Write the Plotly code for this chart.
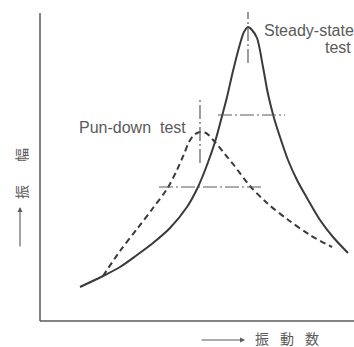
import plotly.graph_objects as go

# Data (frequency, amplitude) in arbitrary units
steady_x = [40, 63, 80, 97, 113, 130, 147, 158, 167, 175, 181, 187, 193, 200, 204, 208, 212, 217, 223, 228, 234, 240, 248, 257, 267, 280, 293, 308]
steady_y = [34, 45, 54, 66, 78, 93, 114, 134, 156, 179, 201, 224, 250, 277, 289, 294, 291, 283, 254, 227, 203, 184, 161, 141, 123, 101, 84, 68]

rundown_x = [63, 80, 97, 113, 127, 137, 144, 149, 154, 160, 166, 175, 184, 193, 210, 227, 247, 270, 292]
rundown_y = [45, 70, 92, 113, 132, 151, 167, 179, 186, 189, 188, 179, 168, 157, 135, 118, 102, 86, 74]

# marker lines (dash-dot)
steady_peak_x = [208, 208]
steady_peak_y = [258, 309]
steady_half_x = [178, 245]
steady_half_y = [206, 206]
rundown_peak_x = [160, 160]
rundown_peak_y = [158, 221]
rundown_half_x = [119, 222]
rundown_half_y = [134, 134]

curve_labels = ["Steady-state", "test", "Pun-down  test"]
x_title_chars = ["振", "動", "数"]
y_title_chars = ["振", "幅"]

ink = "#3a3a3a"
grey = "#5a5a5a"
fig = go.Figure()
fig.add_trace(go.Scatter(x=steady_x, y=steady_y, mode="lines",
                         line=dict(color=ink, width=2, shape="spline", smoothing=0.9)))
fig.add_trace(go.Scatter(x=rundown_x, y=rundown_y, mode="lines",
                         line=dict(color=ink, width=2, dash="6px,4px", shape="spline", smoothing=0.9)))
for xs, ys in [(steady_peak_x, steady_peak_y), (steady_half_x, steady_half_y),
               (rundown_peak_x, rundown_peak_y), (rundown_half_x, rundown_half_y)]:
    fig.add_trace(go.Scatter(x=xs, y=ys, mode="lines",
                             line=dict(color=grey, width=1.2, dash="14px,3px,2px,3px")))

txt = dict(family="Liberation Sans Narrow, Liberation Sans, sans-serif", size=16, color=grey)
cjk = dict(family="Noto Sans CJK JP", size=14, color=grey)
fig.add_annotation(x=222, y=291, text=curve_labels[0], showarrow=False, xanchor="left", yanchor="middle", font=txt)
fig.add_annotation(x=313, y=274, text=curve_labels[1], showarrow=False, xanchor="right", yanchor="middle", font=txt)
fig.add_annotation(x=37, y=194, text=curve_labels[2], showarrow=False, xanchor="left", yanchor="middle", font=txt)

W, H = 314.0, 321.0
# x title
for ch, px in zip(x_title_chars, [262, 287, 312]):
    fig.add_annotation(xref="paper", yref="paper", x=(px - 40) / W, y=(321 - 338) / H, text=ch,
                       showarrow=False, xanchor="center", yanchor="middle", font=cjk)
fig.add_annotation(xref="paper", yref="paper", x=(245 - 40) / W, y=(321 - 340) / H, ax=-45, ay=0,
                   text="", showarrow=True, arrowhead=2, arrowsize=0.9, arrowwidth=1.1,
                   arrowcolor=grey, axref="pixel", ayref="pixel")
# y title
for ch, py in zip(y_title_chars, [192, 155]):
    fig.add_annotation(xref="paper", yref="paper", x=(21 - 40) / W, y=(321 - py) / H, text=ch,
                       showarrow=False, textangle=-90, xanchor="center", yanchor="middle", font=cjk)
fig.add_annotation(xref="paper", yref="paper", x=(20 - 40) / W, y=(321 - 207) / H, ax=0, ay=41,
                   text="", showarrow=True, arrowhead=2, arrowsize=0.9, arrowwidth=1.1,
                   arrowcolor=grey, axref="pixel", ayref="pixel")

# axis lines
fig.add_shape(type="line", xref="paper", yref="paper", x0=0, x1=0, y0=0, y1=308 / H,
              line=dict(color=grey, width=1.5))
fig.add_shape(type="line", xref="paper", yref="paper", x0=0, x1=1, y0=0, y1=0,
              line=dict(color=grey, width=1.5))

fig.update_layout(width=354, height=347, margin=dict(l=40, r=0, t=0, b=26),
                  plot_bgcolor="white", paper_bgcolor="white", showlegend=False)
fig.update_xaxes(range=[0, W], visible=False)
fig.update_yaxes(range=[0, H], visible=False)
fig.write_html("out.html")
